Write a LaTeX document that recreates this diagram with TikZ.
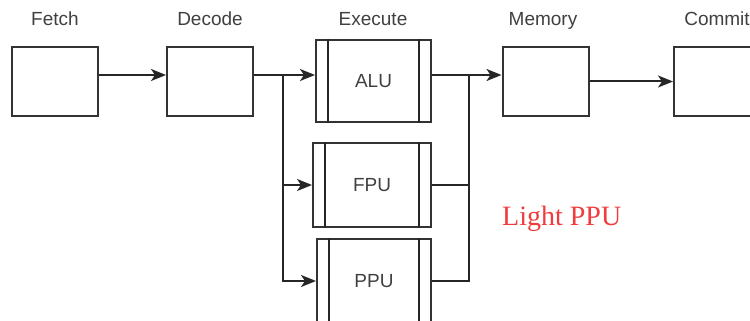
\documentclass[tikz,border=0pt]{standalone}
\usepackage{fontspec}
\setmainfont{Liberation Sans}
\newfontfamily\serifred{Liberation Serif}
\usetikzlibrary{arrows.meta}
\definecolor{txtgrey}{HTML}{404040}
\definecolor{lightred}{HTML}{F03C3C}
\begin{document}
\begin{tikzpicture}[x=1pt,y=-1pt,
  stagebox/.style={draw=black!80,line width=2pt,fill=white,inner sep=0pt,minimum width=86pt,minimum height=69pt},
  unitbox/.style={draw=black!80,line width=2pt,fill=white,inner sep=0pt,font=\fontsize{19}{22}\selectfont,text=txtgrey},
  stagelabel/.style={font=\fontsize{19}{22}\selectfont,text=txtgrey,inner sep=0pt,anchor=base},
  conn/.style={draw=black!85,line width=2pt},
  arr/.style={conn,-{Stealth[length=15pt,width=12pt,inset=4pt]}}]
\useasboundingbox (0,0) rectangle (750,321);
\clip (0,0) rectangle (750,321);
% stage boxes
\node[stagebox] (fetch) at (55,81.5) {};
\node[stagebox] (decode) at (210,81.5) {};
\node[stagebox] (memory) at (545.5,81.5) {};
\node[stagebox] (commit) at (717,81.5) {};
% execute units
\node[unitbox,minimum width=115pt,minimum height=82pt] (alu) at (373.5,81) {ALU};
\node[unitbox,minimum width=118pt,minimum height=84pt] (fpu) at (372,185) {FPU};
\node[unitbox,minimum width=114pt,minimum height=84pt] (ppu) at (374,281) {PPU};
\foreach \u in {alu,fpu,ppu}{
  \draw[conn] ([xshift=13pt]\u.north west) -- ([xshift=13pt]\u.south west);
  \draw[conn] ([xshift=-13pt]\u.north east) -- ([xshift=-13pt]\u.south east);
}
% labels
\node[stagelabel] (lfetch) at (55,26) {Fetch};
\node[stagelabel] (ldecode) at (210,26) {Decode};
\node[stagelabel] (lexec) at (373,26) {Execute};
\node[stagelabel] (lmem) at (543,26) {Memory};
\node[stagelabel] (lcommit) at (717,26) {Commit};
\node[inner sep=0pt,anchor=base west,text=lightred,font=\serifred\fontsize{28}{32}\selectfont] (light) at (502,225) {Light PPU};
% connectors
\coordinate (split) at (283,75);
\coordinate (merge) at (469,75);
\draw[arr] ([yshift=6.5pt]fetch.east) -- ([yshift=6.5pt]decode.west);
\draw[conn] ([yshift=6.5pt]decode.east) -- (split);
\draw[arr] (split) -- (split -| alu.west);
\draw[arr] (split) |- (fpu.west);
\draw[arr] (split) |- (ppu.west);
\draw[conn] (alu.east |- merge) -- (merge);
\draw[arr] (merge) -- (merge -| memory.west);
\draw[conn] (fpu.east) -| (merge);
\draw[conn] (ppu.east) -| (merge);
\draw[arr] (memory.east) -- (commit.west);
\end{tikzpicture}
\end{document}
